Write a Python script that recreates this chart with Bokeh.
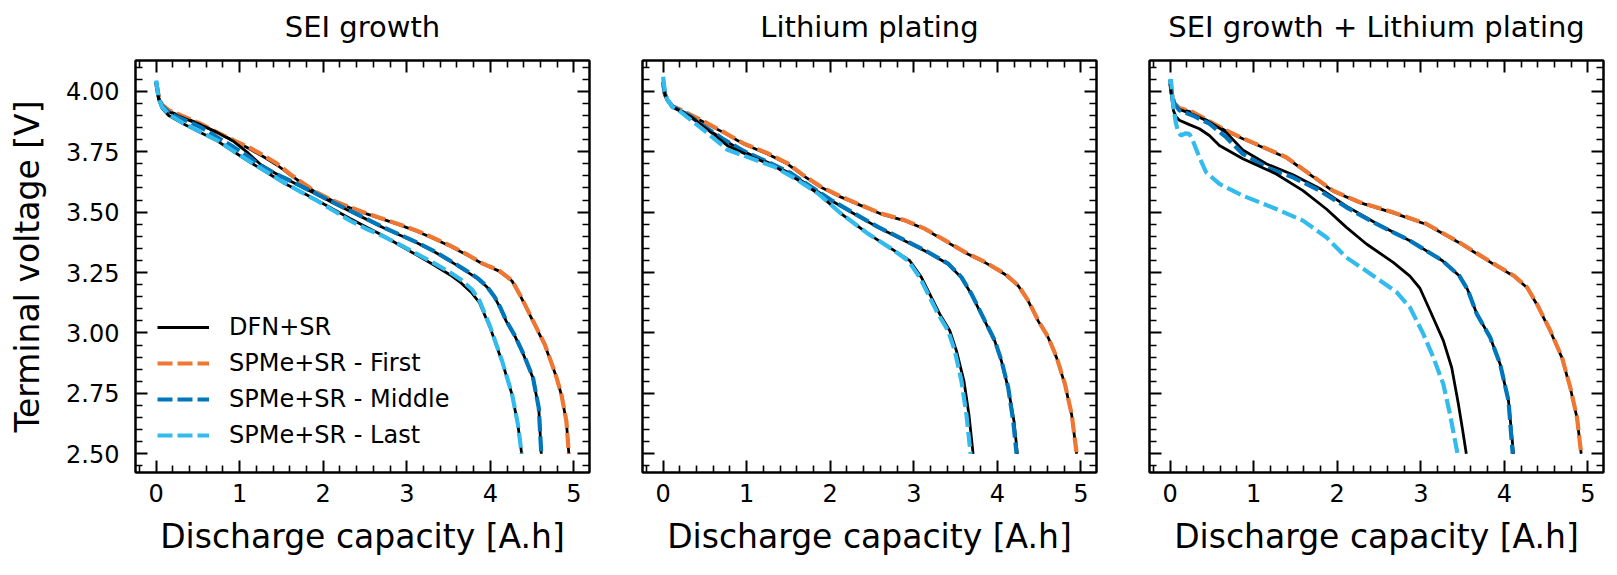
from bokeh.plotting import figure
from bokeh.layouts import row
from bokeh.models import Range1d, LinearAxis, FixedTicker, NumeralTickFormatter, Legend, LegendItem
from bokeh.embed import file_html
from bokeh.resources import INLINE

FONT = "DejaVu Sans"

titles = ["SEI growth", "Lithium plating", "SEI growth + Lithium plating"]
x_label = "Discharge capacity [A.h]"
y_label = "Terminal voltage [V]"
legend_labels = ["DFN+SR", "SPMe+SR - First", "SPMe+SR - Middle", "SPMe+SR - Last"]

x_major_ticks = [0, 1, 2, 3, 4, 5]
x_minor_ticks = [-0.2, 0.2, 0.4, 0.6, 0.8, 1.2, 1.4, 1.6, 1.8, 2.2, 2.4, 2.6, 2.8,
                 3.2, 3.4, 3.6, 3.8, 4.2, 4.4, 4.6, 4.8]
y_major_ticks = [2.50, 2.75, 3.00, 3.25, 3.50, 3.75, 4.00]
y_minor_ticks = [2.45, 2.55, 2.60, 2.65, 2.70, 2.80, 2.85, 2.90, 2.95, 3.05, 3.10, 3.15,
                 3.20, 3.30, 3.35, 3.40, 3.45, 3.55, 3.60, 3.65, 3.70, 3.80, 3.85, 3.90,
                 3.95, 4.05, 4.10]

# ---------------- SEI growth ----------------
sei_first_cap = [0.0, 0.03, 0.07, 0.15, 0.30, 0.53, 0.70, 0.93, 1.10, 1.29, 1.45, 1.60, 1.80,
                 1.92, 2.10, 2.32, 2.52, 2.72, 2.92, 3.12, 3.32, 3.52, 3.72, 3.91, 4.10, 4.26,
                 4.37, 4.51, 4.65, 4.78, 4.85, 4.91, 4.94]
sei_spme_first_v = [4.035, 3.98, 3.945, 3.922, 3.900, 3.866, 3.835, 3.797, 3.770, 3.734, 3.700,
                    3.658, 3.610, 3.582, 3.550, 3.520, 3.495, 3.472, 3.448, 3.423, 3.393, 3.361,
                    3.325, 3.287, 3.259, 3.217, 3.148, 3.051, 2.954, 2.830, 2.747, 2.636, 2.50]
sei_dfn_first_v = [4.030, 3.975, 3.940, 3.918, 3.897, 3.864, 3.834, 3.795, 3.765, 3.728, 3.694,
                   3.655, 3.607, 3.580, 3.549, 3.518, 3.493, 3.470, 3.446, 3.421, 3.391, 3.359,
                   3.323, 3.285, 3.257, 3.215, 3.146, 3.049, 2.952, 2.828, 2.745, 2.634, 2.50]

sei_middle_cap = [0.0, 0.03, 0.07, 0.17, 0.35, 0.53, 0.73, 0.93, 1.10, 1.25, 1.42, 1.60, 1.76,
                  1.92, 2.12, 2.32, 2.52, 2.72, 2.92, 3.12, 3.32, 3.52, 3.70, 3.85, 3.96, 4.05,
                  4.12, 4.19, 4.30, 4.40, 4.51, 4.58, 4.61]
sei_spme_middle_v = [4.040, 3.975, 3.940, 3.907, 3.880, 3.852, 3.810, 3.769, 3.730, 3.693, 3.660,
                     3.631, 3.603, 3.576, 3.540, 3.506, 3.472, 3.437, 3.406, 3.375, 3.340, 3.299,
                     3.260, 3.226, 3.192, 3.150, 3.105, 3.051, 2.985, 2.910, 2.816, 2.690, 2.50]
sei_dfn_middle_v = [4.035, 3.972, 3.938, 3.912, 3.886, 3.862, 3.830, 3.792, 3.745, 3.697, 3.662,
                    3.630, 3.601, 3.574, 3.538, 3.504, 3.470, 3.435, 3.404, 3.373, 3.338, 3.297,
                    3.258, 3.224, 3.190, 3.148, 3.103, 3.049, 2.983, 2.908, 2.814, 2.688, 2.50]

sei_last_cap = [0.0, 0.03, 0.07, 0.15, 0.33, 0.53, 0.73, 0.93, 1.13, 1.33, 1.52, 1.72, 1.92,
                2.12, 2.32, 2.52, 2.72, 2.92, 3.12, 3.32, 3.52, 3.65, 3.78, 3.87, 4.00, 4.14,
                4.26, 4.33, 4.375]
sei_spme_last_v = [4.045, 3.970, 3.935, 3.905, 3.867, 3.832, 3.797, 3.752, 3.707, 3.665, 3.624,
                   3.586, 3.548, 3.507, 3.465, 3.430, 3.400, 3.365, 3.327, 3.290, 3.250, 3.220,
                   3.180, 3.134, 3.024, 2.885, 2.747, 2.622, 2.50]
sei_dfn_last_v = [4.035, 3.965, 3.930, 3.900, 3.865, 3.830, 3.795, 3.750, 3.705, 3.663, 3.622,
                  3.586, 3.550, 3.512, 3.474, 3.437, 3.402, 3.362, 3.322, 3.282, 3.240, 3.207,
                  3.165, 3.125, 3.020, 2.882, 2.745, 2.620, 2.50]

# ---------------- Lithium plating ----------------
pl_first_cap = [0.0, 0.02, 0.05, 0.11, 0.21, 0.33, 0.49, 0.73, 0.97, 1.25, 1.49, 1.69, 1.89,
                2.13, 2.37, 2.61, 2.89, 3.13, 3.37, 3.61, 3.85, 4.09, 4.25, 4.37, 4.49, 4.61,
                4.71, 4.81, 4.89, 4.95]
pl_spme_first_v = [4.030, 3.990, 3.965, 3.938, 3.924, 3.903, 3.875, 3.830, 3.783, 3.744, 3.702,
                   3.650, 3.605, 3.564, 3.529, 3.494, 3.467, 3.432, 3.384, 3.335, 3.294, 3.245,
                   3.197, 3.134, 3.051, 2.982, 2.899, 2.788, 2.663, 2.50]
pl_dfn_first_v = [4.025, 3.985, 3.962, 3.935, 3.921, 3.900, 3.872, 3.828, 3.781, 3.741, 3.699,
                  3.648, 3.603, 3.562, 3.527, 3.492, 3.465, 3.430, 3.382, 3.333, 3.292, 3.243,
                  3.195, 3.132, 3.049, 2.980, 2.897, 2.786, 2.661, 2.50]

pl_middle_cap = [0.0, 0.02, 0.05, 0.11, 0.21, 0.33, 0.49, 0.73, 0.97, 1.25, 1.53, 1.77, 2.01,
                 2.29, 2.57, 2.89, 3.17, 3.41, 3.57, 3.69, 3.85, 3.97, 4.05, 4.13, 4.19, 4.23]
pl_spme_middle_v = [4.040, 3.990, 3.965, 3.938, 3.920, 3.896, 3.855, 3.800, 3.752, 3.708, 3.661,
                    3.605, 3.550, 3.494, 3.439, 3.384, 3.335, 3.287, 3.231, 3.162, 3.051, 2.968,
                    2.885, 2.774, 2.636, 2.50]
pl_dfn_middle_cap = [0.0, 0.02, 0.05, 0.11, 0.21, 0.33, 0.49, 0.73, 0.97, 1.25, 1.53, 1.77, 2.01,
                     2.29, 2.57, 2.89, 3.17, 3.41, 3.57, 3.69, 3.85, 3.97, 4.05, 4.13, 4.20, 4.24]
pl_dfn_middle_v = [4.035, 3.985, 3.962, 3.936, 3.918, 3.894, 3.853, 3.798, 3.750, 3.706, 3.659,
                   3.603, 3.548, 3.492, 3.437, 3.382, 3.333, 3.285, 3.229, 3.160, 3.049, 2.966,
                   2.883, 2.772, 2.634, 2.50]

pl_last_cap = [0.0, 0.02, 0.05, 0.11, 0.21, 0.33, 0.53, 0.77, 1.05, 1.33, 1.61, 1.85, 2.13,
               2.45, 2.73, 2.93, 3.07, 3.17, 3.29, 3.41, 3.49, 3.57, 3.63, 3.68]
pl_spme_last_v = [4.060, 4.000, 3.965, 3.935, 3.915, 3.882, 3.827, 3.758, 3.723, 3.688, 3.633,
                  3.578, 3.494, 3.411, 3.349, 3.300, 3.231, 3.162, 3.079, 3.010, 2.927, 2.802,
                  2.663, 2.50]
pl_dfn_last_cap = [0.0, 0.02, 0.05, 0.11, 0.21, 0.33, 0.53, 0.77, 1.05, 1.33, 1.61, 1.85, 2.13,
                   2.45, 2.73, 2.95, 3.09, 3.19, 3.31, 3.43, 3.51, 3.60, 3.66, 3.71]
pl_dfn_last_v = [4.050, 3.990, 3.962, 3.935, 3.918, 3.895, 3.842, 3.775, 3.730, 3.690, 3.634,
                 3.578, 3.494, 3.411, 3.349, 3.300, 3.231, 3.162, 3.079, 3.010, 2.927, 2.802,
                 2.663, 2.50]

# ---------------- SEI growth + Lithium plating ----------------
co_first_cap = [0.0, 0.02, 0.05, 0.11, 0.27, 0.47, 0.67, 0.87, 1.07, 1.39, 1.67, 1.95, 2.27,
                2.67, 3.07, 3.46, 3.87, 4.11, 4.27, 4.39, 4.55, 4.69, 4.79, 4.87, 4.92]
co_spme_first_v = [4.035, 3.990, 3.950, 3.931, 3.914, 3.876, 3.838, 3.806, 3.776, 3.727, 3.658,
                   3.589, 3.541, 3.499, 3.451, 3.375, 3.287, 3.238, 3.190, 3.120, 3.010, 2.899,
                   2.774, 2.650, 2.50]
co_dfn_first_v = [4.030, 3.985, 3.947, 3.929, 3.912, 3.874, 3.836, 3.804, 3.774, 3.725, 3.656,
                  3.587, 3.539, 3.497, 3.449, 3.373, 3.285, 3.236, 3.188, 3.118, 3.008, 2.897,
                  2.772, 2.648, 2.50]

co_middle_cap = [0.0, 0.02, 0.05, 0.11, 0.27, 0.47, 0.67, 0.87, 1.15, 1.47, 1.79, 2.11, 2.47,
                 2.87, 3.26, 3.46, 3.56, 3.67, 3.83, 3.95, 4.05, 4.10]
co_spme_middle_v = [4.050, 3.990, 3.950, 3.921, 3.900, 3.866, 3.810, 3.741, 3.686, 3.644, 3.589,
                    3.520, 3.451, 3.382, 3.299, 3.237, 3.180, 3.079, 2.982, 2.871, 2.719, 2.50]
co_dfn_middle_cap = [0.0, 0.02, 0.05, 0.11, 0.27, 0.47, 0.67, 0.87, 1.15, 1.47, 1.79, 2.11, 2.47,
                     2.87, 3.26, 3.46, 3.56, 3.67, 3.83, 3.95, 4.05, 4.11]
co_dfn_middle_v = [4.040, 3.985, 3.948, 3.925, 3.905, 3.873, 3.830, 3.757, 3.700, 3.655, 3.598,
                   3.525, 3.453, 3.382, 3.299, 3.237, 3.180, 3.079, 2.982, 2.871, 2.719, 2.50]

co_spme_last_cap = [0.0, 0.01, 0.03, 0.05, 0.07, 0.10, 0.13, 0.18, 0.23, 0.27, 0.35, 0.43, 0.59,
                    0.87, 1.27, 1.59, 1.87, 2.11, 2.43, 2.71, 2.87, 3.03, 3.15, 3.27, 3.35, 3.44]
co_spme_last_v = [4.030, 4.050, 3.963, 3.910, 3.866, 3.830, 3.817, 3.826, 3.824, 3.797, 3.727,
                  3.665, 3.617, 3.568, 3.513, 3.465, 3.396, 3.312, 3.237, 3.169, 3.106, 2.996,
                  2.899, 2.788, 2.663, 2.50]
co_dfn_last_cap = [0.0, 0.02, 0.04, 0.07, 0.11, 0.23, 0.35, 0.47, 0.59, 0.87, 1.27, 1.59, 1.87,
                   2.11, 2.35, 2.67, 2.87, 2.99, 3.11, 3.27, 3.37, 3.45, 3.50, 3.545]
co_dfn_last_v = [4.030, 3.970, 3.920, 3.895, 3.880, 3.862, 3.845, 3.817, 3.776, 3.721, 3.658,
                 3.589, 3.513, 3.437, 3.368, 3.292, 3.235, 3.185, 3.093, 2.968, 2.857, 2.706,
                 2.600, 2.50]

cycle_colors = ["#EE7733", "#0077BB", "#33BBEE"]

panels = [
    [  # (dfn_cap, dfn_v, spme_cap, spme_v) for First, Middle, Last
        (sei_first_cap, sei_dfn_first_v, sei_first_cap, sei_spme_first_v),
        (sei_middle_cap, sei_dfn_middle_v, sei_middle_cap, sei_spme_middle_v),
        (sei_last_cap, sei_dfn_last_v, sei_last_cap, sei_spme_last_v),
    ],
    [
        (pl_first_cap, pl_dfn_first_v, pl_first_cap, pl_spme_first_v),
        (pl_dfn_middle_cap, pl_dfn_middle_v, pl_middle_cap, pl_spme_middle_v),
        (pl_dfn_last_cap, pl_dfn_last_v, pl_last_cap, pl_spme_last_v),
    ],
    [
        (co_first_cap, co_dfn_first_v, co_first_cap, co_spme_first_v),
        (co_dfn_middle_cap, co_dfn_middle_v, co_middle_cap, co_spme_middle_v),
        (co_dfn_last_cap, co_dfn_last_v, co_spme_last_cap, co_spme_last_v),
    ],
]

# Bokeh's standalone page has no body margin, so the canvas starts at (0, 0)
FRAME_W, FRAME_H = 454, 412
BORDER_TOP, BORDER_BOTTOM = 60, 103
borders = [(135, 26), (27, 26), (27, 14)]


def style_axis(ax, show_labels, standoff):
    ax.axis_line_color = "black"
    ax.axis_line_width = 2
    ax.major_tick_in = 12
    ax.major_tick_out = 0
    ax.minor_tick_in = 7
    ax.minor_tick_out = 0
    ax.major_tick_line_width = 2
    ax.minor_tick_line_width = 1.6
    ax.major_tick_line_color = "black"
    ax.minor_tick_line_color = "black"
    ax.major_label_text_font = FONT
    if show_labels:
        ax.major_label_text_color = "black"
        ax.major_label_text_font_size = "24px"
        ax.major_label_standoff = standoff
    else:
        ax.major_label_text_color = None
        ax.major_label_text_font_size = "1px"
        ax.major_label_standoff = 0


def style_label(ax, text, size, standoff):
    ax.axis_label = text
    ax.axis_label_text_font = FONT
    ax.axis_label_text_font_size = size
    ax.axis_label_text_font_style = "normal"
    ax.axis_label_text_color = "black"
    ax.axis_label_standoff = standoff


figs = []
for i, (title, series) in enumerate(zip(titles, panels)):
    bl, br = borders[i]
    p = figure(width=bl + FRAME_W + br, height=BORDER_TOP + FRAME_H + BORDER_BOTTOM,
               x_range=Range1d(-0.247, 5.187), y_range=Range1d(2.4225, 4.1275),
               output_backend="svg", toolbar_location=None,
               min_border_left=bl, min_border_right=br,
               min_border_top=BORDER_TOP, min_border_bottom=BORDER_BOTTOM,
               x_axis_location=None, y_axis_location=None)
    p.grid.visible = False
    p.outline_line_color = "black"
    p.outline_line_width = 2
    p.background_fill_color = "white"
    p.border_fill_color = "white"

    xt = FixedTicker(ticks=x_major_ticks, minor_ticks=x_minor_ticks)
    yt = FixedTicker(ticks=y_major_ticks, minor_ticks=y_minor_ticks)

    xb = LinearAxis(ticker=xt)
    style_axis(xb, True, 11)
    style_label(xb, x_label, "33px", 12)
    p.add_layout(xb, "below")

    # top axis: inward ticks, no tick labels; carries the panel title
    xa = LinearAxis(ticker=xt)
    style_axis(xa, False, 0)
    style_label(xa, title, "29px", 17)
    p.add_layout(xa, "above")

    yl = LinearAxis(ticker=yt, formatter=NumeralTickFormatter(format="0.00"))
    if i == 0:
        style_axis(yl, True, 16)
        style_label(yl, y_label, "33px", 16)
    else:
        style_axis(yl, False, 0)
    p.add_layout(yl, "left")

    yr = LinearAxis(ticker=yt)
    style_axis(yr, False, 0)
    p.add_layout(yr, "right")

    first_dfn = None
    spme_renderers = []
    for (dc, dv, sc, sv), col in zip(series, cycle_colors):
        rd = p.line(dc, dv, line_color="black", line_width=2.8)
        rs = p.line(sc, sv, line_color=col, line_width=4.2, line_dash="15 5")
        if first_dfn is None:
            first_dfn = rd
        spme_renderers.append(rs)

    if i == 0:
        items = [LegendItem(label=legend_labels[0], renderers=[first_dfn])]
        for lab, r in zip(legend_labels[1:], spme_renderers):
            items.append(LegendItem(label=lab, renderers=[r]))
        legend = Legend(items=items, location=(22, 19))
        legend.label_text_font = FONT
        legend.label_text_font_size = "24px"
        legend.label_text_color = "black"
        legend.glyph_width = 52
        legend.glyph_height = 36
        legend.label_height = 36
        legend.label_standoff = 20
        legend.spacing = 0
        legend.padding = 0
        legend.margin = 0
        legend.border_line_color = None
        legend.background_fill_alpha = 0
        p.add_layout(legend)

    figs.append(p)

layout = row(*figs)
open("out.html", "w").write(file_html(layout, INLINE))
